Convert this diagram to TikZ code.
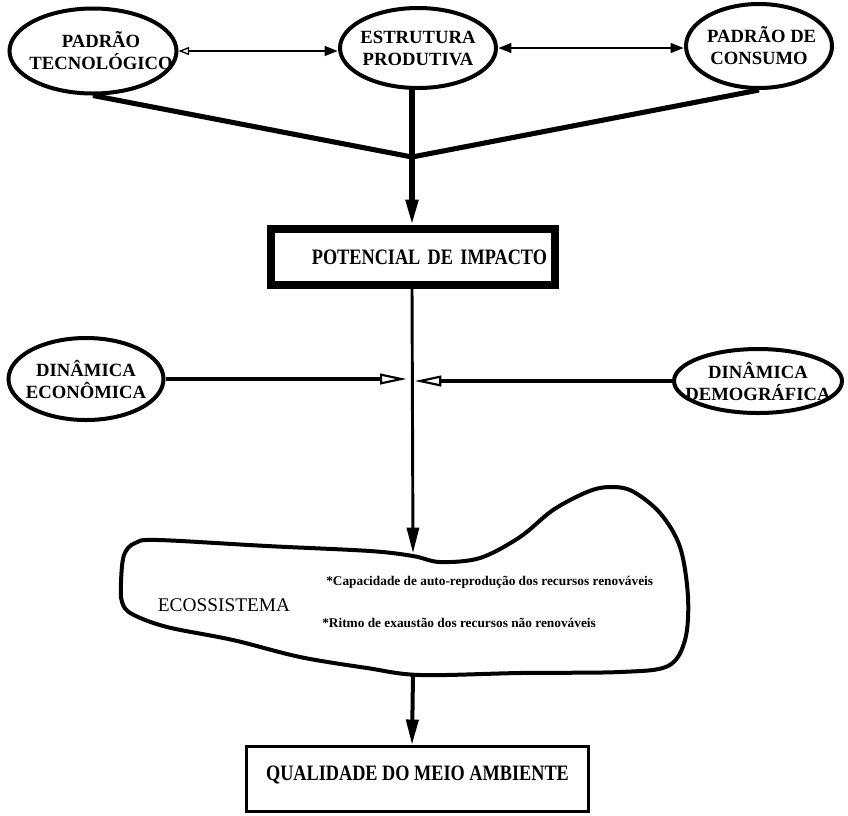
\documentclass[tikz,border=0pt]{standalone}
\usepackage{fontspec}
\setmainfont{Liberation Serif}
\newfontfamily\boxfont[FakeStretch=0.83]{Liberation Serif}
\usetikzlibrary{arrows.meta,shapes.geometric}
% a line of text that takes no width, so the oval keeps its own size
\newcommand\zw[1]{\makebox[0pt]{#1}}
\begin{document}
\begin{tikzpicture}[x=0.75pt,y=-0.75pt,
  oval/.style={ellipse,draw,line width=3pt,inner sep=0pt,align=center,
    font=\bfseries\fontsize{14}{16.5}\selectfont},
  framebox/.style={rectangle,draw,inner sep=0pt,
    font=\boxfont\bfseries\fontsize{16.5}{18}\selectfont},
  thinlink/.style={line width=2.2pt},
  fatlink/.style={line width=3.8pt},
  headbig/.style={-{Triangle[length=19pt,width=9pt]}},
  hollowhead/.style={-{Triangle[open,fill=white,length=20pt,width=8pt,line width=1.6pt]}},
  note/.style={font=\bfseries\fontsize{10}{12}\selectfont,anchor=west,inner sep=0pt}]
\useasboundingbox (0,0) rectangle (848,815);

% top row of factors
\node[oval,minimum width=125.25pt,minimum height=63.75pt] (pt) at (93,51)
  {\zw{\hspace{12pt}PADRÃO}\\\zw{\hspace{12pt}TECNOLÓGICO}};
\node[oval,minimum width=117pt,minimum height=60pt] (ep) at (418,48)
  {\zw{ESTRUTURA}\\\zw{PRODUTIVA}};
\node[oval,minimum width=109.5pt,minimum height=63pt] (pc) at (759,46)
  {\zw{\hspace{4pt}PADRÃO DE}\\\zw{CONSUMO}};

\draw[thinlink,{Triangle[open,fill=white,length=8pt,width=6pt,line width=1pt]}-{Triangle[length=10pt,width=7pt]}]
  (pt.east) -- (pt.east -| ep.west);
\draw[thinlink,{Triangle[length=10pt,width=7pt]}-{Triangle[length=10pt,width=7pt]}]
  (ep.east) -- (ep.east -| pc.west);

% convergence towards the impact potential
\coordinate (J) at (412,157);
\draw[fatlink,line join=round] (pt.south) -- (J) -- (pc.south);

\node[framebox,line width=6pt,minimum width=213pt,minimum height=42pt,
  text width=201pt,align=right] (pot) at (413,257) {POTENCIAL DE IMPACTO};
\draw[fatlink,headbig] (ep.south -| J) -- (pot.north -| J);

% dynamics acting on the flow
\node[oval,minimum width=116.25pt,minimum height=61.5pt] (de) at (86,379)
  {\zw{DINÂMICA}\\\zw{ECONÔMICA}};
\node[oval,minimum width=126pt,minimum height=48pt] (dd) at (758,381)
  {\zw{DINÂMICA}\\\zw{DEMOGRÁFICA}};

\coordinate (ecotop) at (413,553);
\coordinate (ecobot) at (413,674);
\draw[thinlink,headbig] (pot.south -| J) -- (ecotop);

\draw[line width=3pt,hollowhead,shorten >=4pt] (de.east) -- (de.east -| J);
\draw[line width=3pt,hollowhead,shorten >=2pt] (dd.west) -- (dd.west -| J);

% ecosystem outline
\draw[line width=3pt,line join=round] plot[smooth cycle,tension=0.55] coordinates {
  (121,582) (124,555) (135,543) (158,540) (267,546) (370,551) (413,556)
  (440,562) (480,558) (520,537) (553,510) (587,492) (609,487) (632,491)
  (660,513) (680,547) (688,597) (685,640) (668,666) (620,672) (520,673)
  (420,675) (367,668) (300,657) (233,640) (167,627) (132,614) (122,602)};
\node[font=\fontsize{14.5}{16}\selectfont,inner sep=0pt] (eco) at (224,605) {ECOSSISTEMA};
\node[note] (cap) at (326,582) {*Capacidade de auto-reprodução dos recursos renováveis};
\node[note] (rit) at (322,623) {*Ritmo de exaustão dos recursos não renováveis};

% resulting quality
\node[framebox,line width=2.2pt,minimum width=256pt,minimum height=49pt,
  text height=11pt,text depth=9pt] (qual) at (417.5,779) {QUALIDADE DO MEIO AMBIENTE};
\draw[line width=3pt,headbig] (ecobot) -- (qual.north -| J);
\end{tikzpicture}
\end{document}
